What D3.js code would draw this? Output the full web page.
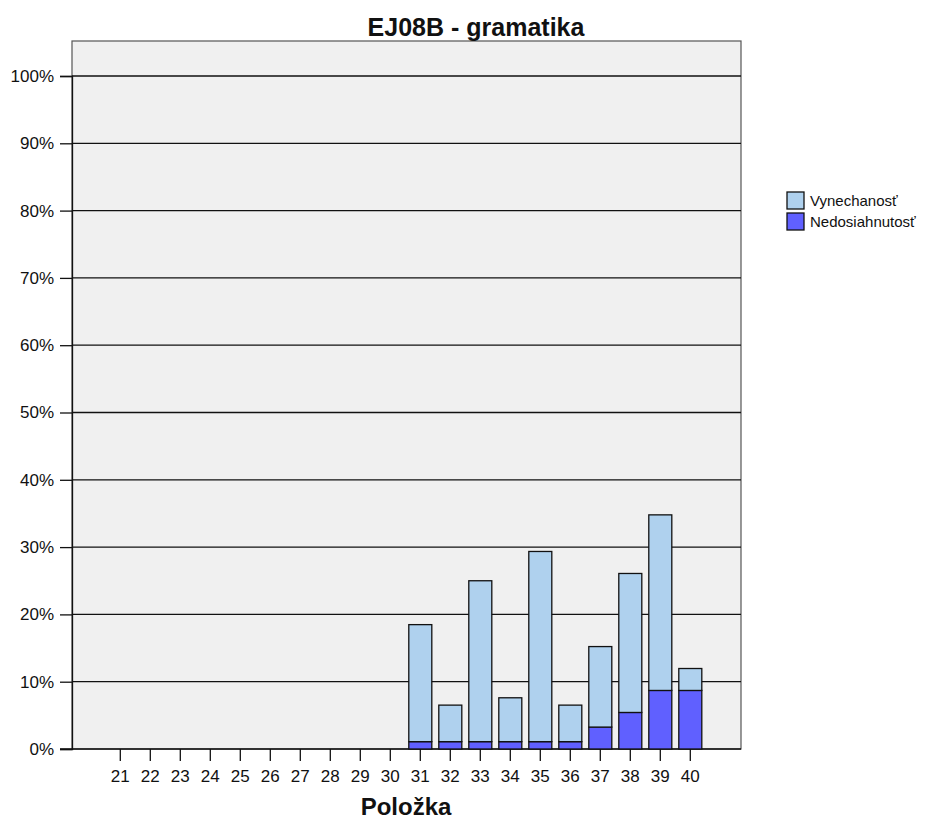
<!DOCTYPE html>
<html>
<head>
<meta charset="utf-8">
<script src="https://cdn.jsdelivr.net/npm/d3@7"></script>
<style>
  body { margin: 0; background: #fff; }
  text { font-family: "Liberation Sans", Arial, sans-serif; }
</style>
</head>
<body>
<script>
// items on the x axis
var items = ["21","22","23","24","25","26","27","28","29","30","31","32","33","34","35","36","37","38","39","40"];
// percent values, bottom segment first
var nedosiahnutost = [0,0,0,0,0,0,0,0,0,0, 1.09,1.09,1.09,1.09,1.09,1.09,3.26,5.43,8.70,8.70];
var vynechanost    = [0,0,0,0,0,0,0,0,0,0, 17.39,5.43,23.91,6.52,28.26,5.43,11.96,20.65,26.09,3.26];
var seriesNames = ["Vynechanosť", "Nedosiahnutosť"];
var yTicks = [0,10,20,30,40,50,60,70,80,90,100];

var width = 941, height = 821;
var plotLeft = 72, plotRight = 741, plotTop = 41, plotBottom = 749;

var svg = d3.select("body").append("svg")
    .attr("width", width)
    .attr("height", height);

var x = d3.scaleBand()
    .domain(items)
    .range([105.3, 705.3])
    .paddingInner(0.233)
    .paddingOuter(0.1165);

var y = d3.scaleLinear()
    .domain([0, 100])
    .range([plotBottom, 76]);

var color = d3.scaleOrdinal()
    .domain(seriesNames)
    .range(["#AFD1EE", "#6060FF"]);

// plot background
svg.append("rect")
    .attr("x", plotLeft).attr("y", plotTop)
    .attr("width", plotRight - plotLeft).attr("height", plotBottom - plotTop)
    .style("fill", "#F0F0F0")
    .style("stroke", "#555")
    .style("stroke-width", 1.2);

// grid lines
svg.selectAll(".grid")
    .data(yTicks.slice(1))
  .enter().append("line")
    .attr("x1", plotLeft).attr("x2", plotRight)
    .attr("y1", function(d) { return y(d); })
    .attr("y2", function(d) { return y(d); })
    .style("stroke", "#111")
    .style("stroke-width", 1.3);

// y axis
var yAxis = svg.append("g")
    .attr("transform", "translate(" + plotLeft + ",0)")
    .call(d3.axisLeft(y).tickValues(yTicks).tickSize(12).tickPadding(6)
      .tickFormat(function(d) { return d + "%"; }));
yAxis.select(".domain").style("stroke", "#111").style("stroke-width", 1.3);
yAxis.selectAll(".tick line").style("stroke", "#111").style("stroke-width", 1.3);
yAxis.selectAll("text").style("font-size", "17px").style("fill", "#111")
    .style("font-family", "Liberation Sans, Arial, sans-serif");

// x axis
var xAxis = svg.append("g")
    .attr("transform", "translate(0," + plotBottom + ")")
    .call(d3.axisBottom(x).tickSize(12).tickPadding(9));
xAxis.select(".domain").remove();
svg.append("line")
    .attr("x1", 60).attr("x2", plotRight)
    .attr("y1", plotBottom).attr("y2", plotBottom)
    .style("stroke", "#111").style("stroke-width", 1.5);
xAxis.selectAll(".tick line").style("stroke", "#111").style("stroke-width", 1.3);
xAxis.selectAll("text").style("font-size", "17px").style("fill", "#111")
    .style("font-family", "Liberation Sans, Arial, sans-serif");

// bars
var table = items.map(function(d, i) {
  return { item: d, "Nedosiahnutosť": nedosiahnutost[i], "Vynechanosť": vynechanost[i] };
});
var stack = d3.stack().keys(["Nedosiahnutosť", "Vynechanosť"]);

svg.selectAll(".layer")
    .data(stack(table))
  .enter().append("g")
    .attr("class", "layer")
    .style("fill", function(d) { return color(d.key); })
  .selectAll("rect")
    .data(function(d) { return d.filter(function(p) { return p[1] - p[0] > 0; }); })
  .enter().append("rect")
    .attr("x", function(d) { return x(d.data.item); })
    .attr("width", x.bandwidth())
    .attr("y", function(d) { return y(d[1]); })
    .attr("height", function(d) { return y(d[0]) - y(d[1]); })
    .style("stroke", "#111")
    .style("stroke-width", 1.3);

// titles
svg.append("text")
    .attr("x", 476).attr("y", 36)
    .attr("text-anchor", "middle")
    .style("font-size", "25px").style("font-weight", "bold").style("fill", "#111")
    .text("EJ08B - gramatika");

svg.append("text")
    .attr("x", 406).attr("y", 815)
    .attr("text-anchor", "middle")
    .style("font-size", "24px").style("font-weight", "bold").style("fill", "#111")
    .text("Položka");

// legend
var legend = svg.selectAll(".legend")
    .data(seriesNames)
  .enter().append("g")
    .attr("class", "legend")
    .attr("transform", function(d, i) { return "translate(787," + (192 + i * 21) + ")"; });

legend.append("rect")
    .attr("width", 17).attr("height", 17)
    .style("fill", function(d) { return color(d); })
    .style("stroke", "#111").style("stroke-width", 1.3);

legend.append("text")
    .attr("x", 23).attr("y", 14)
    .style("font-size", "15px").style("fill", "#111")
    .text(function(d) { return d; });
</script>
</body>
</html>
